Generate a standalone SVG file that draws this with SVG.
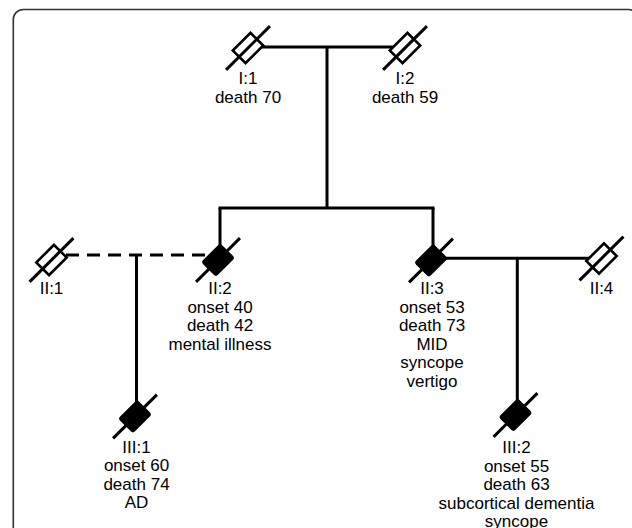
<svg xmlns="http://www.w3.org/2000/svg" width="632" height="528" viewBox="0 0 632 528">
<defs>
<style>
.ln{stroke:#000;stroke-width:3;fill:none}
.dash{stroke:#000;stroke-width:3;fill:none;stroke-dasharray:13 8}
text{font-family:"Liberation Sans",Arial,sans-serif;font-size:17px;fill:#000;text-anchor:middle}
</style>
<g id="openSym">
<g transform="rotate(-45)">
<rect x="-12.5" y="-9" width="25" height="18" fill="#fff" stroke="#000" stroke-width="2.6"/>
<line x1="-31" y1="0" x2="31" y2="0" stroke="#000" stroke-width="3"/>
</g>
</g>
<g id="fillSym">
<g transform="rotate(-45)">
<rect x="-13.5" y="-10.5" width="27" height="21" rx="3" fill="#000"/>
<line x1="-31" y1="0" x2="31" y2="0" stroke="#000" stroke-width="3"/>
</g>
</g>
</defs>
<rect width="632" height="528" fill="#fff"/>
<rect x="13.3" y="9.5" width="625" height="545" rx="10" fill="none" stroke="#333" stroke-width="1.6"/>
<g id="connectors">
<line class="ln" x1="258" y1="47" x2="395" y2="47"/>
<line class="ln" x1="327" y1="47" x2="327" y2="208"/>
<line class="ln" x1="218.5" y1="208" x2="434.5" y2="208"/>
<line class="ln" x1="220" y1="208" x2="220" y2="250"/>
<line class="ln" x1="433" y1="208" x2="433" y2="250"/>
<line class="dash" x1="66" y1="255" x2="210" y2="255"/>
<line class="ln" x1="136.5" y1="255" x2="136.5" y2="405"/>
<line class="ln" x1="440" y1="258.3" x2="592" y2="258.3"/>
<line class="ln" x1="517.3" y1="258.3" x2="517.3" y2="405"/>
</g>
<g id="I1"><use href="#openSym" x="248" y="48"/><text x="248" y="84">I:1</text><text x="248" y="102.5">death 70</text></g>
<g id="I2"><use href="#openSym" x="405" y="48"/><text x="405" y="84">I:2</text><text x="405" y="102.5">death 59</text></g>
<g id="II1"><use href="#openSym" x="51.5" y="260"/><text x="51.5" y="294">II:1</text></g>
<g id="II2"><use href="#fillSym" x="218" y="260"/><text x="220" y="294">II:2</text><text x="220" y="312.5">onset 40</text><text x="220" y="331">death 42</text><text x="220" y="349.5">mental illness</text></g>
<g id="II3"><use href="#fillSym" x="431" y="260.5"/><text x="432" y="294">II:3</text><text x="432" y="312.5">onset 53</text><text x="432" y="331">death 73</text><text x="432" y="349.5">MID</text><text x="432" y="368">syncope</text><text x="432" y="386.5">vertigo</text></g>
<g id="II4"><use href="#openSym" x="601.5" y="258.5"/><text x="601.5" y="294">II:4</text></g>
<g id="III1"><use href="#fillSym" x="135" y="416.5"/><text x="136.5" y="452.5">III:1</text><text x="136.5" y="471">onset 60</text><text x="136.5" y="489.5">death 74</text><text x="136.5" y="508">AD</text></g>
<g id="III2"><use href="#fillSym" x="515.5" y="415"/><text x="516.5" y="453">III:2</text><text x="516.5" y="471.5">onset 55</text><text x="516.5" y="490">death 63</text><text x="516.5" y="508.5">subcortical dementia</text><text x="516.5" y="527">syncope</text></g>
</svg>
